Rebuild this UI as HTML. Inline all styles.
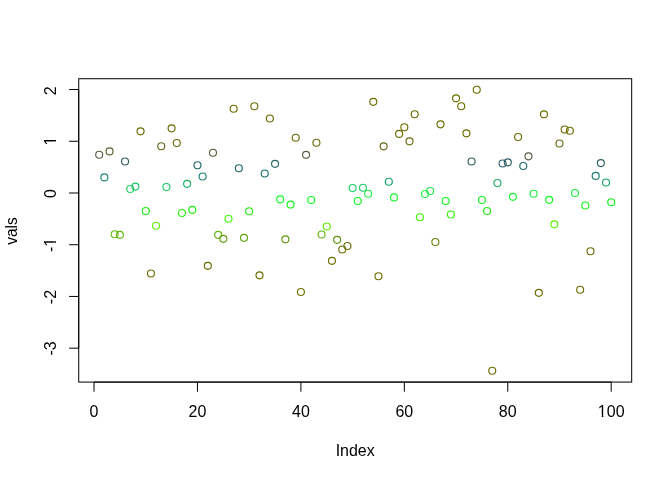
<!DOCTYPE html>
<html><head><meta charset="utf-8"><style>
html,body{margin:0;padding:0;background:#fff;}
svg{display:block;will-change:transform;}
text{font-family:"Liberation Sans",sans-serif;font-size:16px;fill:#000;}
</style></head><body>
<svg width="672" height="480" viewBox="0 0 672 480">
<rect width="672" height="480" fill="#fff"/>
<g fill="none" stroke-width="1.15">
<circle cx="99.20" cy="154.70" r="3.5" stroke="#5c5c46"/><circle cx="104.37" cy="177.40" r="3.5" stroke="#1a8676"/><circle cx="109.54" cy="151.40" r="3.5" stroke="#5c5c2f"/><circle cx="114.72" cy="234.20" r="3.5" stroke="#64ba11"/><circle cx="119.89" cy="234.80" r="3.5" stroke="#64b611"/><circle cx="125.06" cy="161.50" r="3.5" stroke="#315c5e"/><circle cx="130.23" cy="189.00" r="3.5" stroke="#22d45e"/><circle cx="135.40" cy="186.60" r="3.5" stroke="#20c466"/><circle cx="140.57" cy="131.30" r="3.5" stroke="#6c6c00"/><circle cx="145.75" cy="211.00" r="3.5" stroke="#20ee11"/><circle cx="150.92" cy="273.50" r="3.5" stroke="#6c6c00"/><circle cx="156.09" cy="225.70" r="3.5" stroke="#60ef00"/><circle cx="161.26" cy="146.20" r="3.5" stroke="#66661c"/><circle cx="166.43" cy="187.00" r="3.5" stroke="#21c766"/><circle cx="171.60" cy="128.30" r="3.5" stroke="#6c6c00"/><circle cx="176.78" cy="143.00" r="3.5" stroke="#6c6c11"/><circle cx="181.95" cy="213.00" r="3.5" stroke="#2af20e"/><circle cx="187.12" cy="183.80" r="3.5" stroke="#1cb266"/><circle cx="192.29" cy="209.80" r="3.5" stroke="#1ef013"/><circle cx="197.46" cy="165.20" r="3.5" stroke="#256768"/><circle cx="202.63" cy="176.50" r="3.5" stroke="#187f73"/><circle cx="207.81" cy="265.80" r="3.5" stroke="#6c6c00"/><circle cx="212.98" cy="152.70" r="3.5" stroke="#5c5c38"/><circle cx="218.15" cy="234.80" r="3.5" stroke="#64b611"/><circle cx="223.32" cy="238.80" r="3.5" stroke="#609b11"/><circle cx="228.49" cy="218.70" r="3.5" stroke="#45f707"/><circle cx="233.66" cy="108.70" r="3.5" stroke="#6c6c00"/><circle cx="238.84" cy="168.20" r="3.5" stroke="#1b6d6c"/><circle cx="244.01" cy="237.80" r="3.5" stroke="#61a211"/><circle cx="249.18" cy="211.20" r="3.5" stroke="#21ee11"/><circle cx="254.35" cy="106.20" r="3.5" stroke="#6c6c00"/><circle cx="259.52" cy="275.30" r="3.5" stroke="#6c6c00"/><circle cx="264.69" cy="173.50" r="3.5" stroke="#17726e"/><circle cx="269.87" cy="118.50" r="3.5" stroke="#6c6c00"/><circle cx="275.04" cy="163.80" r="3.5" stroke="#2a6365"/><circle cx="280.21" cy="199.30" r="3.5" stroke="#14f828"/><circle cx="285.38" cy="239.30" r="3.5" stroke="#5f9811"/><circle cx="290.55" cy="204.60" r="3.5" stroke="#17f61c"/><circle cx="295.73" cy="137.70" r="3.5" stroke="#6c6c04"/><circle cx="300.90" cy="292.00" r="3.5" stroke="#6c6c00"/><circle cx="306.07" cy="154.80" r="3.5" stroke="#5c5c47"/><circle cx="311.24" cy="200.00" r="3.5" stroke="#13f925"/><circle cx="316.41" cy="142.70" r="3.5" stroke="#6c6c10"/><circle cx="321.58" cy="234.50" r="3.5" stroke="#64b811"/><circle cx="326.76" cy="226.50" r="3.5" stroke="#60ea02"/><circle cx="331.93" cy="260.80" r="3.5" stroke="#6c6c00"/><circle cx="337.10" cy="239.80" r="3.5" stroke="#609411"/><circle cx="342.27" cy="249.50" r="3.5" stroke="#6d6e04"/><circle cx="347.44" cy="246.00" r="3.5" stroke="#6e6f08"/><circle cx="352.61" cy="188.00" r="3.5" stroke="#22cd65"/><circle cx="357.79" cy="201.00" r="3.5" stroke="#11fa22"/><circle cx="362.96" cy="187.70" r="3.5" stroke="#22cb66"/><circle cx="368.13" cy="193.70" r="3.5" stroke="#20ef41"/><circle cx="373.30" cy="101.80" r="3.5" stroke="#6c6c00"/><circle cx="378.47" cy="276.20" r="3.5" stroke="#6c6c00"/><circle cx="383.64" cy="146.30" r="3.5" stroke="#66661d"/><circle cx="388.82" cy="181.70" r="3.5" stroke="#1aa469"/><circle cx="393.99" cy="197.40" r="3.5" stroke="#18f531"/><circle cx="399.16" cy="133.90" r="3.5" stroke="#6c6c00"/><circle cx="404.33" cy="127.20" r="3.5" stroke="#6c6c00"/><circle cx="409.50" cy="141.30" r="3.5" stroke="#6c6c0c"/><circle cx="414.67" cy="114.20" r="3.5" stroke="#6c6c00"/><circle cx="419.85" cy="217.20" r="3.5" stroke="#40f909"/><circle cx="425.02" cy="194.00" r="3.5" stroke="#20f040"/><circle cx="430.19" cy="191.00" r="3.5" stroke="#22e151"/><circle cx="435.36" cy="242.00" r="3.5" stroke="#66840e"/><circle cx="440.53" cy="124.30" r="3.5" stroke="#6c6c00"/><circle cx="445.71" cy="201.00" r="3.5" stroke="#11fa22"/><circle cx="450.88" cy="214.50" r="3.5" stroke="#32f60c"/><circle cx="456.05" cy="98.30" r="3.5" stroke="#6c6c00"/><circle cx="461.22" cy="106.20" r="3.5" stroke="#6c6c00"/><circle cx="466.39" cy="133.30" r="3.5" stroke="#6c6c00"/><circle cx="471.56" cy="161.50" r="3.5" stroke="#315c5e"/><circle cx="476.74" cy="89.70" r="3.5" stroke="#6c6c00"/><circle cx="481.91" cy="200.00" r="3.5" stroke="#13f925"/><circle cx="487.08" cy="211.00" r="3.5" stroke="#20ee11"/><circle cx="492.25" cy="370.70" r="3.5" stroke="#6c6c00"/><circle cx="497.42" cy="183.00" r="3.5" stroke="#1bac66"/><circle cx="502.59" cy="163.50" r="3.5" stroke="#2b6264"/><circle cx="507.77" cy="162.30" r="3.5" stroke="#2d5d60"/><circle cx="512.94" cy="196.80" r="3.5" stroke="#1af433"/><circle cx="518.11" cy="137.00" r="3.5" stroke="#6c6c02"/><circle cx="523.28" cy="166.00" r="3.5" stroke="#21696a"/><circle cx="528.45" cy="156.30" r="3.5" stroke="#585c4f"/><circle cx="533.62" cy="193.70" r="3.5" stroke="#20ef41"/><circle cx="538.80" cy="292.80" r="3.5" stroke="#6c6c00"/><circle cx="543.97" cy="114.30" r="3.5" stroke="#6c6c00"/><circle cx="549.14" cy="199.80" r="3.5" stroke="#13f926"/><circle cx="554.31" cy="224.30" r="3.5" stroke="#5bf101"/><circle cx="559.48" cy="143.50" r="3.5" stroke="#6b6b12"/><circle cx="564.65" cy="129.50" r="3.5" stroke="#6c6c00"/><circle cx="569.83" cy="130.70" r="3.5" stroke="#6c6c00"/><circle cx="575.00" cy="193.00" r="3.5" stroke="#22ee44"/><circle cx="580.17" cy="289.70" r="3.5" stroke="#6c6c00"/><circle cx="585.34" cy="205.50" r="3.5" stroke="#18f41a"/><circle cx="590.51" cy="251.20" r="3.5" stroke="#6c6d02"/><circle cx="595.68" cy="175.90" r="3.5" stroke="#187b71"/><circle cx="600.86" cy="163.10" r="3.5" stroke="#2c6063"/><circle cx="606.03" cy="182.50" r="3.5" stroke="#1aa966"/><circle cx="611.20" cy="202.20" r="3.5" stroke="#13f820"/>
</g>
<g stroke="#000" stroke-width="1" fill="none">
<rect x="78.72" y="78.72" width="552.96" height="303.36"/>
<line x1="78.72" y1="348.16" x2="78.72" y2="89.56"/>
<line x1="94.03" y1="382.08" x2="611.20" y2="382.08"/>
<line x1="78.72" y1="348.16" x2="69.12" y2="348.16"/><line x1="78.72" y1="296.44" x2="69.12" y2="296.44"/><line x1="78.72" y1="244.72" x2="69.12" y2="244.72"/><line x1="78.72" y1="193.00" x2="69.12" y2="193.00"/><line x1="78.72" y1="141.28" x2="69.12" y2="141.28"/><line x1="78.72" y1="89.56" x2="69.12" y2="89.56"/><line x1="94.03" y1="382.08" x2="94.03" y2="391.68"/><line x1="197.46" y1="382.08" x2="197.46" y2="391.68"/><line x1="300.90" y1="382.08" x2="300.90" y2="391.68"/><line x1="404.33" y1="382.08" x2="404.33" y2="391.68"/><line x1="507.77" y1="382.08" x2="507.77" y2="391.68"/><line x1="611.20" y1="382.08" x2="611.20" y2="391.68"/>
</g>
<g>
<g transform="translate(55.700 348.460) rotate(-90) scale(1.0 1.03)"><text x="0" y="0" text-anchor="middle">-3</text></g><g transform="translate(55.700 297.040) rotate(-90) scale(1.0 1.03)"><text x="0" y="0" text-anchor="middle">-2</text></g><g transform="translate(55.700 244.920) rotate(-90) scale(1.0 1.03)"><clipPath id="c1"><path clip-rule="evenodd" d="M-12.11 -20H12.11V8H-12.11ZM-1.94 -2.13H2.16V3H-1.94ZM3.73 -2.13H7.11V3H3.73Z"/></clipPath><text x="0" y="0" text-anchor="middle" clip-path="url(#c1)">-1</text></g><g transform="translate(55.700 193.500) rotate(-90) scale(1.0 1.03)"><text x="0" y="0" text-anchor="middle">0</text></g><g transform="translate(55.700 141.080) rotate(-90) scale(1.0 1.03)"><clipPath id="c2"><path clip-rule="evenodd" d="M-9.45 -20H9.45V8H-9.45ZM-4.61 -2.13H-0.50V3H-4.61ZM1.07 -2.13H4.45V3H1.07Z"/></clipPath><text x="0" y="0" text-anchor="middle" clip-path="url(#c2)">1</text></g><g transform="translate(55.700 90.760) rotate(-90) scale(1.0 1.03)"><text x="0" y="0" text-anchor="middle">2</text></g><g transform="translate(94.028 417.000) scale(1.0 1.03)"><text x="0" y="0" text-anchor="middle">0</text></g><g transform="translate(197.463 417.000) scale(1.0 1.03)"><text x="0" y="0" text-anchor="middle">20</text></g><g transform="translate(300.897 417.000) scale(1.0 1.03)"><text x="0" y="0" text-anchor="middle">40</text></g><g transform="translate(404.331 417.000) scale(1.0 1.03)"><text x="0" y="0" text-anchor="middle">60</text></g><g transform="translate(507.766 417.000) scale(1.0 1.03)"><text x="0" y="0" text-anchor="middle">80</text></g><g transform="translate(611.200 417.000) scale(1.0 1.03)"><clipPath id="c3"><path clip-rule="evenodd" d="M-18.35 -20H18.35V8H-18.35ZM-13.50 -2.13H-9.40V3H-13.50ZM-7.83 -2.13H-4.45V3H-7.83Z"/></clipPath><text x="0" y="0" text-anchor="middle" clip-path="url(#c3)">100</text></g>
<g transform="translate(355.200 455.800) scale(1.0 1.03)"><text x="0" y="0" text-anchor="middle">Index</text></g>
<g transform="translate(16.900 231.000) rotate(-90) scale(0.97 1.03)"><text x="0" y="0" text-anchor="middle">vals</text></g>
</g>
</svg>
</body></html>
